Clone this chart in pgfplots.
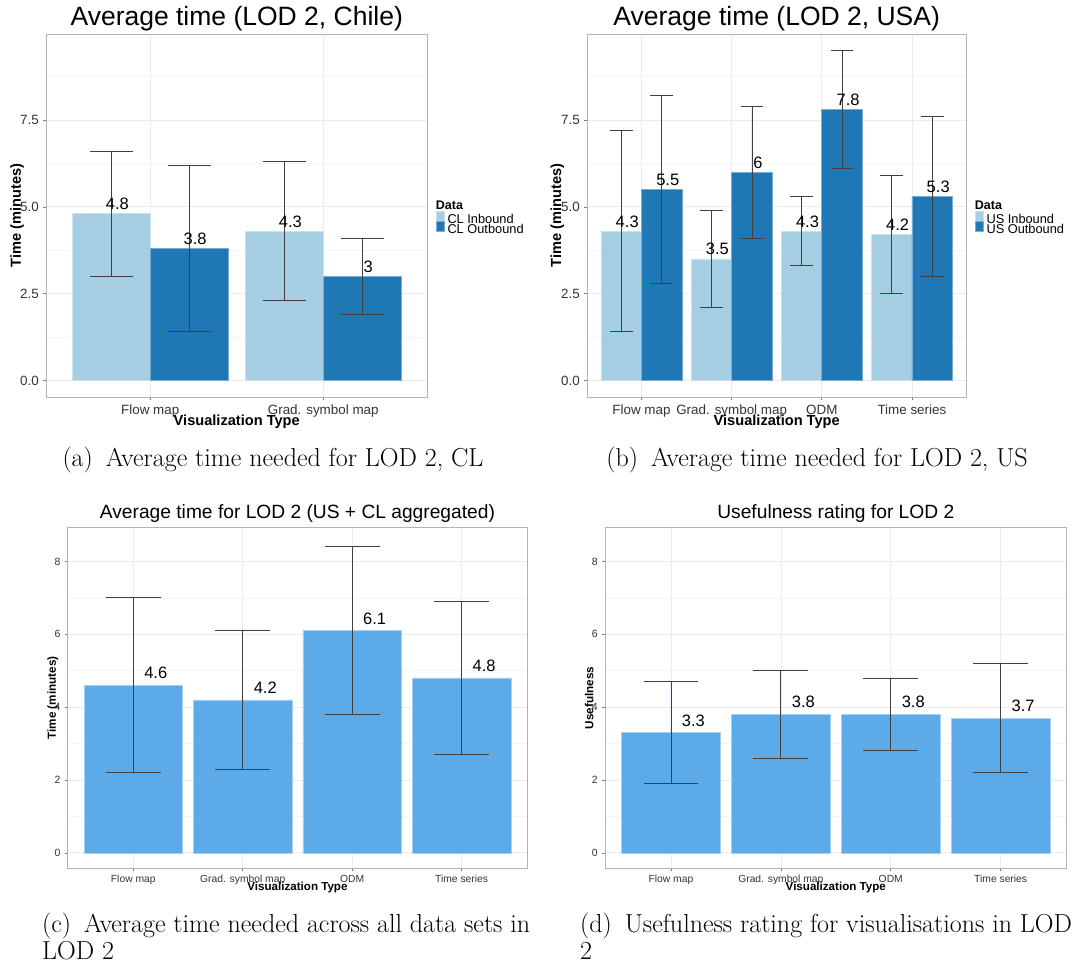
\documentclass[border=0pt]{standalone}
\usepackage{fontspec}
\usepackage{pgfplots}
\pgfplotsset{compat=1.18}
\newfontfamily\arial{Liberation Sans}
\newcommand\fs[1]{\fontsize{#1}{#1}\selectfont}
\newcommand\capfont{\rmfamily\fontsize{26}{27}\selectfont}
\definecolor{inb}{HTML}{A6CEE3}
\definecolor{outb}{HTML}{1F78B4}
\definecolor{agg}{HTML}{5DAAE9}
\definecolor{gridc}{HTML}{EBEBEB}
\definecolor{gridm}{HTML}{F4F4F4}
\definecolor{bordc}{HTML}{B3B3B3}
\definecolor{tickc}{HTML}{333333}
\definecolor{errc}{HTML}{404040}
\pgfplotsset{
  gg/.style={
    scale only axis, clip mode=individual,
    axis line style={draw=bordc, line width=0.8pt},
    tick align=outside, tick pos=left,
    major tick length=3pt, minor tick length=0pt,
    every tick/.style={draw=bordc!70!black, line width=0.6pt},
    ymajorgrids, yminorgrids, xmajorgrids,
    major grid style={draw=gridc, line width=0.7pt},
    minor grid style={draw=gridm, line width=0.6pt},
    xticklabel style={anchor=base, inner sep=0pt, text=tickc},
    yticklabel style={anchor=east, inner sep=0pt, text=tickc},
    error bars/y dir=both, error bars/y explicit,
    error bars/error bar style={draw=errc, line width=0.8pt},
    nodes near coords={\pgfmathprintnumber[assume math mode=true]{\pgfplotspointmeta}},
    nodes near coords style={font=\arial\fs{16.5}, anchor=base, inner sep=0pt, text=black},
    title style={anchor=base, at={(axis description cs:0.5,1)}},
    xlabel style={anchor=base},
    ylabel style={anchor=center},
  },
  top/.style={gg,
    height=363pt, ymin=-0.475, ymax=9.975,
    ytick={0,2.5,5,7.5}, yticklabels={0.0,2.5,5.0,7.5}, minor ytick={1.25,3.75,6.25,8.75},
    xticklabel style={font=\arial\fs{13.4}, yshift=-15pt},
    yticklabel style={font=\arial\fs{13.4}, xshift=-4.5pt},
    title style={font=\arial\fs{26.5}, yshift=2pt},
    xlabel={Visualization Type}, ylabel={Time (minutes)},
    xlabel style={font=\arial\bfseries\fs{14.6}, at={([yshift=-28.4pt]axis description cs:0.5,0)}},
    ylabel style={font=\arial\bfseries\fs{14.6}},
    nodes near coords style={xshift=6pt, yshift=4pt},
    legend style={draw=none, fill=none, at={([xshift=8.7pt,yshift=-8.5pt]axis description cs:1,0.5)}, anchor=west,
      inner sep=0pt, row sep=-5.5pt, font=\arial\fs{12.8},
      /tikz/every odd column/.append style={column sep=1pt}},
    legend cell align=left,
    legend image code/.code={\fill[##1] (0pt,-2.2pt) rectangle (8pt,7.6pt);},
  },
  bot/.style={gg,
    height=340.6pt, ymin=-0.425, ymax=8.925,
    xmin=0.4, xmax=4.6, xtick={1,2,3,4},
    xticklabels={Flow map, Grad. symbol map, ODM, Time series},
    ytick={0,2,4,6,8}, yticklabels={0,2,4,6,8}, minor ytick={1,3,5,7},
    xticklabel style={font=\arial\fs{10.3}, yshift=-11pt},
    yticklabel style={font=\arial\fs{10.5}, xshift=-4pt},
    title style={font=\arial\fs{19.2}, yshift=2.7pt},
    xlabel={Visualization Type},
    xlabel style={font=\arial\bfseries\fs{11.6}, at={([yshift=-22.4pt]axis description cs:0.5,0)}},
    ylabel style={font=\arial\bfseries\fs{11.7}},
    nodes near coords style={xshift=22.5pt, yshift=6.5pt},
    error bars/error mark options={draw=errc, line width=0.8pt, mark size=27.4pt, rotate=90},
  },
}
\begin{document}
\begin{tikzpicture}
\useasboundingbox (0,0) rectangle (1073pt,965pt);

% (a)
\begin{axis}[top, at={(46.5pt,568pt)}, anchor=south west, width=380.5pt,
  xmin=0.4, xmax=2.6, xtick={1,2}, xticklabels={Flow map, Grad. symbol map},
  title={Average time (LOD 2, Chile)},
  ylabel style={at={([xshift=-29.5pt]axis description cs:0,0.5)}},
  error bars/error mark options={draw=errc, line width=0.8pt, mark size=21.6pt, rotate=90}]
\addplot[ybar, bar width=0.45, bar shift=0pt, fill=inb, draw=inb!60!white, line width=0.6pt]
  coordinates {(0.775,4.8) +- (0,1.8) (1.775,4.3) +- (0,2.0)};
\addplot[ybar, bar width=0.45, bar shift=0pt, fill=outb, draw=outb!60!white, line width=0.6pt]
  coordinates {(1.225,3.8) +- (0,2.4) (2.225,3.0) +- (0,1.1)};
\legend{CL Inbound, CL Outbound}
\node[font=\arial\bfseries\fs{12.5}, anchor=base west, inner sep=0pt] at ([xshift=8.7pt,yshift=6pt]axis description cs:1,0.5) {Data};
\end{axis}

% (b)
\begin{axis}[top, at={(587.4pt,568pt)}, anchor=south west, width=378.6pt,
  xmin=0.4, xmax=4.6, xtick={1,2,3,4}, xticklabels={Flow map, Grad. symbol map, ODM, Time series},
  title={Average time (LOD 2, USA)},
  ylabel style={at={([xshift=-30pt]axis description cs:0,0.5)}},
  error bars/error mark options={draw=errc, line width=0.8pt, mark size=11.3pt, rotate=90}]
\addplot[ybar, bar width=0.45, bar shift=0pt, fill=inb, draw=inb!60!white, line width=0.6pt]
  coordinates {(0.775,4.3) +- (0,2.9) (1.775,3.5) +- (0,1.4) (2.775,4.3) +- (0,1.0) (3.775,4.2) +- (0,1.7)};
\addplot[ybar, bar width=0.45, bar shift=0pt, fill=outb, draw=outb!60!white, line width=0.6pt]
  coordinates {(1.225,5.5) +- (0,2.7) (2.225,6.0) +- (0,1.9) (3.225,7.8) +- (0,1.7) (4.225,5.3) +- (0,2.3)};
\legend{US Inbound, US Outbound}
\node[font=\arial\bfseries\fs{12.5}, anchor=base west, inner sep=0pt] at ([xshift=8.7pt,yshift=6pt]axis description cs:1,0.5) {Data};
\end{axis}

% (c)
\begin{axis}[bot, at={(67.6pt,96.7pt)}, anchor=south west, width=459.7pt,
  title={Average time for LOD 2 (US + CL aggregated)},
  ylabel={Time (minutes)},
  ylabel style={at={([xshift=-14.7pt]axis description cs:0,0.5)}}]
\addplot[ybar, bar width=0.9, bar shift=0pt, fill=agg, draw=agg!55!white, line width=0.6pt]
  coordinates {(1,4.6) +- (0,2.4) (2,4.2) +- (0,1.9) (3,6.1) +- (0,2.3) (4,4.8) +- (0,2.1)};
\end{axis}

% (d)
\begin{axis}[bot, at={(605pt,96.7pt)}, anchor=south west, width=461.6pt,
  title={Usefulness rating for LOD 2},
  ylabel={Usefulness},
  ylabel style={at={([xshift=-15.7pt]axis description cs:0,0.5)}}]
\addplot[ybar, bar width=0.9, bar shift=0pt, fill=agg, draw=agg!55!white, line width=0.6pt]
  coordinates {(1,3.3) +- (0,1.4) (2,3.8) +- (0,1.2) (3,3.8) +- (0,1.0) (4,3.7) +- (0,1.5)};
\end{axis}

% captions
\node[font=\capfont, anchor=base, inner sep=0pt] at (273pt,498pt) {(a)\hspace{0.5em}Average time needed for LOD 2, CL};
\node[font=\capfont, anchor=base, inner sep=0pt] at (817pt,498pt) {(b)\hspace{0.5em}Average time needed for LOD 2, US};
\node[font=\capfont, anchor=base west, inner sep=0pt] at (42pt,32pt) {(c)\hspace{0.5em}Average time needed across all data sets in};
\node[font=\capfont, anchor=base west, inner sep=0pt] at (42pt,5pt) {LOD 2};
\node[font=\capfont, anchor=base west, inner sep=0pt] at (580pt,32pt) {(d)\hspace{0.5em}Usefulness rating for visualisations in LOD};
\node[font=\capfont, anchor=base west, inner sep=0pt] at (580pt,5pt) {2};
\end{tikzpicture}
\end{document}
